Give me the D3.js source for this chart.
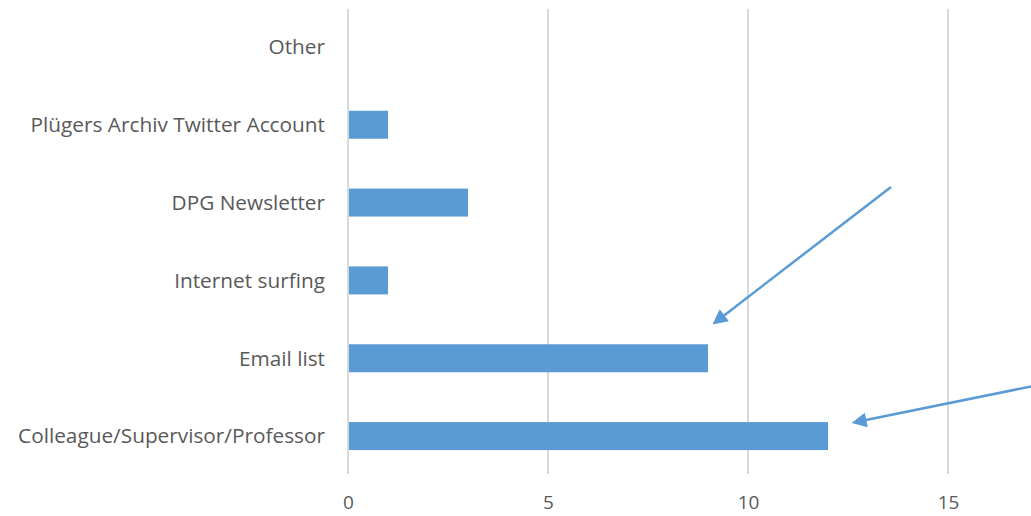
<!DOCTYPE html>
<html>
<head>
<meta charset="utf-8">
<script src="https://cdn.jsdelivr.net/npm/d3@7"></script>
<style>
  body { margin: 0; background: #fff; }
  svg { display: block; }
  text { font-family: "Open Sans", "Noto Sans", sans-serif; fill: #595959; }
</style>
</head>
<body>
<script>
// dimensions
var width = 1031;
var height = 516;

// data
var categories = ["Other", "Plügers Archiv Twitter Account", "DPG Newsletter",
    "Internet surfing", "Email list", "Colleague/Supervisor/Professor"];
var counts = [0, 1, 3, 1, 9, 12];
var tickValues = [0, 5, 10, 15];

// arrows pointing at the two biggest bars (x in data units, y as band offset)
var arrowFrom = [[13.575, "DPG Newsletter", -0.2], [17.1, "Email list", 0.36]];
var arrowTo = [[9.2, "Internet surfing", 0.53], [12.7, "Colleague/Supervisor/Professor", -0.18]];

var svg = d3.select("body")
    .append("svg")
    .attr("width", width)
    .attr("height", height);

var x = d3.scaleLinear()
    .domain([0, 20])
    .range([348, 1148]);

var y = d3.scaleBand()
    .domain(categories)
    .range([8, 475]);

var barH = 28;

// gridlines
svg.append("g")
    .selectAll("line")
    .data(tickValues)
    .enter().append("line")
    .attr("x1", function(d) { return x(d); })
    .attr("x2", function(d) { return x(d); })
    .attr("y1", 9)
    .attr("y2", 474)
    .attr("stroke", "#d9d9d9")
    .attr("stroke-width", 2);

// bars
svg.append("g")
    .selectAll("rect")
    .data(categories)
    .enter().append("rect")
    .attr("x", x(0) + 1)
    .attr("y", function(d) { return y(d) + y.bandwidth() / 2 - barH / 2; })
    .attr("width", function(d, i) { return Math.max(0, x(counts[i]) - x(0) - 1); })
    .attr("height", barH)
    .attr("fill", "#5b9bd5");

// category labels
svg.append("g")
    .selectAll("text")
    .data(categories)
    .enter().append("text")
    .attr("x", 325)
    .attr("y", function(d) { return y(d) + y.bandwidth() / 2; })
    .attr("dy", "0.35em")
    .attr("text-anchor", "end")
    .style("font-size", "20.8px")
    .text(function(d) { return d; });

// x axis labels
var xAxis = d3.axisBottom(x).tickValues(tickValues).tickSize(0).tickPadding(0);
var ax = svg.append("g")
    .attr("transform", "translate(0,495)")
    .call(xAxis);
ax.select(".domain").remove();
ax.selectAll("text")
    .style("font-size", "19px")
    .style("font-family", "\"Open Sans\", \"Noto Sans\", sans-serif")
    .attr("fill", "#595959");

// arrows
var defs = svg.append("defs");
defs.append("marker")
    .attr("id", "head")
    .attr("viewBox", "0 -5 10 10")
    .attr("refX", 7)
    .attr("refY", 0)
    .attr("markerWidth", 7)
    .attr("markerHeight", 6)
    .attr("markerUnits", "strokeWidth")
    .attr("orient", "auto")
    .append("path")
    .attr("d", "M0,-5L10,0L0,5Z")
    .attr("fill", "#5b9bd5");

function pt(p) {
    return [x(p[0]), y(p[1]) + y.bandwidth() / 2 + p[2] * y.bandwidth()];
}

svg.append("g")
    .selectAll("line")
    .data(arrowFrom)
    .enter().append("line")
    .attr("x1", function(d) { return pt(d)[0]; })
    .attr("y1", function(d) { return pt(d)[1]; })
    .attr("x2", function(d, i) { return pt(arrowTo[i])[0]; })
    .attr("y2", function(d, i) { return pt(arrowTo[i])[1]; })
    .attr("stroke", "#5b9bd5")
    .attr("stroke-width", 2.5)
    .attr("marker-end", "url(#head)");
</script>
</body>
</html>
